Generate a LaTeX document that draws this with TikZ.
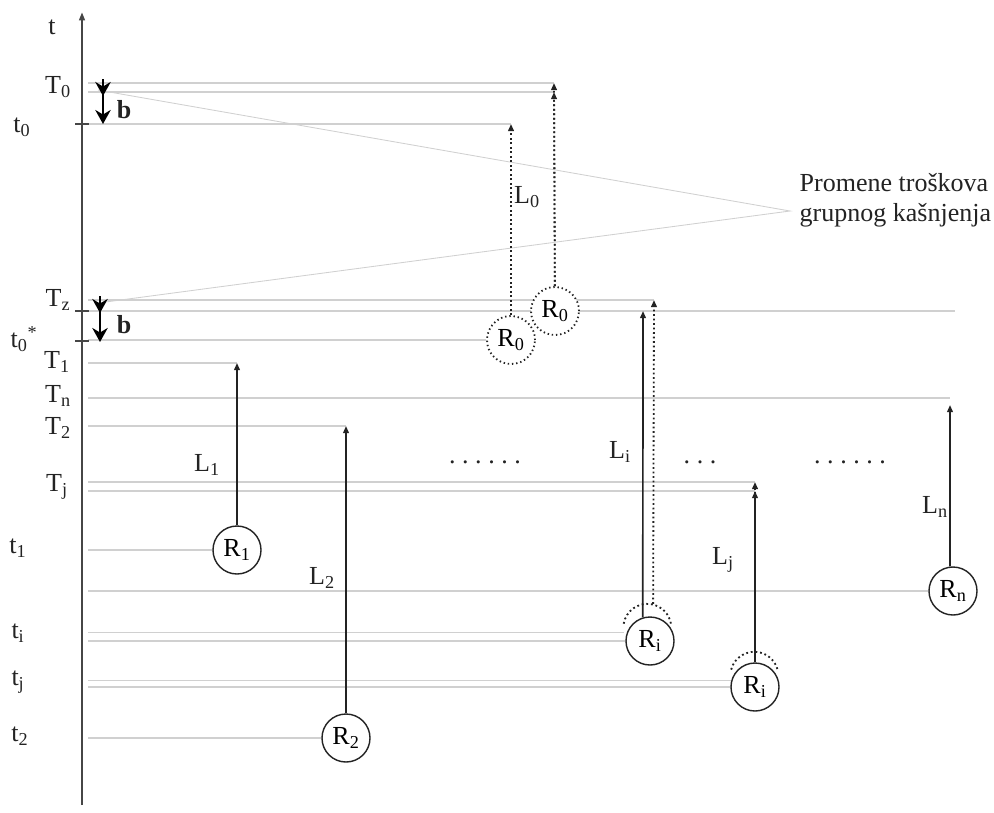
\documentclass[tikz,border=0pt]{standalone}
\usepackage{fontspec}
\setmainfont{Liberation Serif}
\usetikzlibrary{arrows.meta, positioning, backgrounds}
\definecolor{axisgray}{RGB}{70, 70, 70}
\definecolor{guidegray}{RGB}{208, 208, 208}
\definecolor{inkdark}{RGB}{35, 35, 35}

\begin{document}
\begin{tikzpicture}[x=0.025cm, y=-0.025cm,
  lbl/.style={font=\fontsize{18.5}{21}\selectfont, text=inkdark, inner sep=1pt},
  guide/.style={guidegray, line width=0.8pt},
  axisline/.style={axisgray, line width=1.6pt, -{Triangle[length=6pt, width=4pt]}},
  tickmark/.style={axisgray, line width=1.2pt},
  rnode/.style={circle, draw=inkdark, fill=white, line width=1pt, minimum size=1.2cm,
                inner sep=0pt, font=\fontsize{18.5}{21}\selectfont},
  rold/.style={rnode, dotted, line width=1.3pt},
  lnk/.style={inkdark, line width=1.2pt, -{Triangle[length=5pt, width=4pt]}},
  lnkold/.style={lnk, dotted, line width=1.3pt},
  barr/.style={black, line width=2pt, -{Stealth[length=10pt, width=11pt]}},
]
\useasboundingbox (0,0) rectangle (994,812);

% Time axis
\coordinate (axB) at (82,805);
\coordinate (axT) at (82,12);
\coordinate (axL) at (88,0);
\draw[axisline] (axB) -- (axT);
\node[lbl] (tlab) at (52,27) {t};
\foreach \yy in {124, 311, 341}
  \draw[tickmark] (75,\yy) -- (89,\yy);

% Requests
\node[rnode] (r1) at (237,550) {R\textsubscript{1}};
\node[rnode] (r2) at (346,738) {R\textsubscript{2}};
\node[rold] (r0a) at (511,340) {R\textsubscript{0}};
\node[rold] (r0b) at (555,311) {R\textsubscript{0}};
\node[rnode, draw=none, fill=none] (riold) at (648,628) {};
\node[rnode] (ri) at (650,641) {R\textsubscript{i}};
\node[rnode, draw=none, fill=none] (rjold) at (755,676) {};
\node[rnode] (rj) at (755,687) {R\textsubscript{i}};
\node[rnode] (rn) at (953,591) {R\textsubscript{n}};
\draw[dotted, line width=1.3pt, inkdark] (riold.170) arc[start angle=170, end angle=10, radius=0.6cm];
\draw[dotted, line width=1.3pt, inkdark] (rjold.165) arc[start angle=165, end angle=15, radius=0.6cm];

% Arrow tips
\coordinate (tip0a) at (511,124);
\coordinate (tip0b) at (554,83);
\coordinate (tip0c) at (554,92);
\coordinate (tip1) at (237,363);
\coordinate (tip2) at (346,426);
\coordinate (tipi) at (643,311);
\coordinate (tipiold) at (654,300);
\coordinate (tipj) at (755,491);
\coordinate (tipjold) at (755,482);
\coordinate (tipn) at (950,405);

% Guide lines
\begin{scope}[on background layer]
\draw[guide] (tip0b -| axL) -- (tip0b);
\draw[guide] (tip0c -| axL) -- (tip0c);
\draw[guide] (tip0a -| axL) -- (tip0a);
\draw[guide] (tipiold -| axL) -- (tipiold);
\draw[guide] (tipi -| axL) -- (955,311);
\draw[guide] (r0a.west -| axL) -- (r0a.west);
\draw[guide] (tip1 -| axL) -- (tip1);
\draw[guide] (88,398) -- (950,398);
\draw[guide] (tip2 -| axL) -- (tip2);
\draw[guide] (tipjold -| axL) -- (tipjold);
\draw[guide] (tipj -| axL) -- (tipj);
\draw[guide] (r1.west -| axL) -- (r1.west);
\draw[guide] (rn.west -| axL) -- (rn.west);
\draw[guide] (riold.190 -| axL) -- (riold.190);
\draw[guide] (ri.west -| axL) -- (ri.west);
\draw[guide] (rjold.190 -| axL) -- (rjold.190);
\draw[guide] (rj.west -| axL) -- (rj.west);
\draw[guide] (r2.west -| axL) -- (r2.west);
\end{scope}

% Group delay cost changes
\node[lbl, anchor=west, align=left] (note) at (798,200)
  {Promene troškova\\grupnog kašnjenja};
\coordinate (apex) at (790,211);
\begin{scope}[on background layer]
\draw[guide, line width=0.6pt] (98,90) -- (apex) -- (98,303);
\end{scope}

% Links
\draw[lnkold] (r0a) -- (tip0a);
\draw[lnkold] (r0b) -- (tip0b);
\draw[lnkold] (r0b) -- (tip0c);
\draw[lnk] (r1) -- (tip1);
\draw[lnk] (r2) -- (tip2);
\draw[lnk] (ri.107) -- (tipi);
\draw[lnkold] (riold.78) -- (tipiold);
\draw[lnkold] (rjold) -- (tipjold);
\draw[lnk] (rj) -- (tipj);
\draw[lnk] (rn.97) -- (tipn);

% Shifts b
\draw[barr] (103,79) -- (103,96);
\draw[barr] (103,92) -- (103,124);
\draw[barr] (100,296) -- (100,313);
\draw[barr] (100,309) -- (100,342);
\node[lbl, font=\fontsize{18.5}{21}\selectfont\bfseries] (b0) at (124,110) {b};
\node[lbl, font=\fontsize{18.5}{21}\selectfont\bfseries] (bz) at (124,325) {b};

% Axis labels
\node[lbl] (T0) at (58,87) {T\textsubscript{0}};
\node[lbl] (t0) at (22,127) {t\textsubscript{0}};
\node[lbl] (Tz) at (58,300) {T\textsubscript{z}};
\node[lbl] (t0s) at (24,339) {t\textsubscript{0}\textsuperscript{*}};
\node[lbl] (T1) at (57,362) {T\textsubscript{1}};
\node[lbl] (Tn) at (58,396) {T\textsubscript{n}};
\node[lbl] (T2) at (58,428) {T\textsubscript{2}};
\node[lbl] (Tj) at (57,487) {T\textsubscript{j}};
\node[lbl] (t1) at (18,548) {t\textsubscript{1}};
\node[lbl] (ti) at (18,633) {t\textsubscript{i}};
\node[lbl] (tj) at (18,682) {t\textsubscript{j}};
\node[lbl] (t2) at (20,736) {t\textsubscript{2}};

% Link labels
\node[lbl] (L0) at (527,197) {L\textsubscript{0}};
\node[lbl] (L1) at (207,465) {L\textsubscript{1}};
\node[lbl] (L2) at (322,578) {L\textsubscript{2}};
\node[lbl] (Li) at (620,452) {L\textsubscript{i}};
\node[lbl] (Lj) at (723,560) {L\textsubscript{j}};
\node[lbl] (Ln) at (935,507) {L\textsubscript{n}};

% Omitted requests
\node[lbl] (dotsA) at (485,462) {.\ .\ .\ .\ .\ .};
\node[lbl] (dotsB) at (700,462) {.\ .\ .};
\node[lbl] (dotsC) at (850,462) {.\ .\ .\ .\ .\ .};
\end{tikzpicture}
\end{document}
